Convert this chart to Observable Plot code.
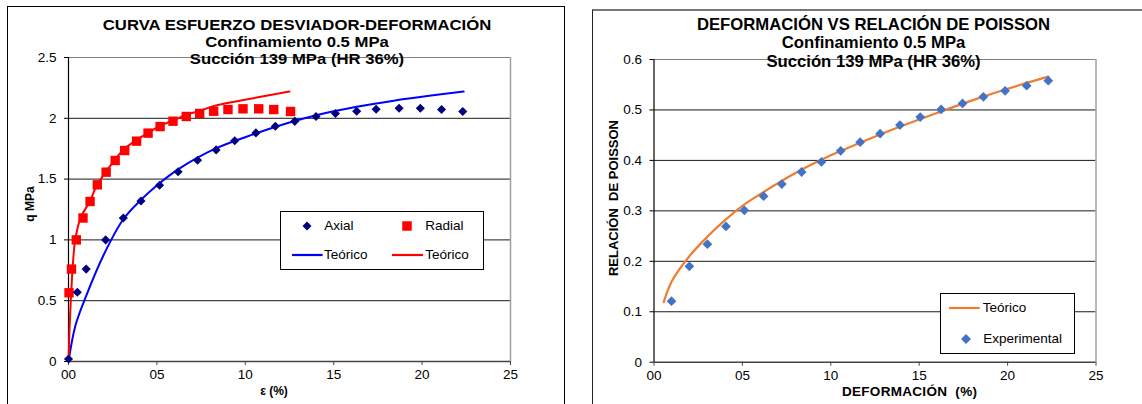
<!DOCTYPE html>
<html>
<head>
<meta charset="utf-8">
<script src="https://cdn.jsdelivr.net/npm/d3@7"></script>
<script src="https://cdn.jsdelivr.net/npm/@observablehq/plot@0.6"></script>
<style>
  html, body { margin: 0; padding: 0; background: #fff; }
  #page { position: relative; width: 1142px; height: 404px; overflow: hidden; background: #fff;
          font-family: "Liberation Sans", Arial, sans-serif; color: #000; }
  .frame { position: absolute; box-sizing: border-box; }
  .chart { position: absolute; top: 0; }
  .title { position: absolute; font-weight: bold; font-size: 16.7px; line-height: 14px;
           white-space: nowrap; transform: translateX(-50%); }
  .title.tight { font-size: 15.4px; transform: translateX(-50%) scaleX(1.085); }
  .axlabel { position: absolute; font-weight: bold; font-size: 12px; line-height: 12px;
             white-space: pre; }
  .legend { position: absolute; box-sizing: border-box; border: 1.4px solid #000; background: #fff; }
  .lgtext { position: absolute; font-size: 13.5px; line-height: 16px; white-space: nowrap; }
  .lgsym { position: absolute; overflow: visible; }
</style>
</head>
<body>
<div id="page">
  <div class="frame" style="left:7px;top:5.5px;width:558px;height:500px;border:1.5px solid #000;"></div>
  <div class="frame" style="left:592px;top:9px;width:600px;height:500px;border-left:1.5px solid #222;border-top:2px solid #777;"></div>
  <div id="left" class="chart" style="left:0px;"></div>
  <div id="right" class="chart" style="left:580px;"></div>
</div>
<script>
// ---- Deviator stress vs. strain ----
const xTicks = [0, 5, 10, 15, 20, 25];
const xTickLabels = ["00", "05", "10", "15", "20", "25"];
const qTicks = [0, 0.5, 1, 1.5, 2, 2.5];
const qTickLabels = ["0", "0.5", "1", "1.5", "2", "2.5"];

const axialStrain = [0.0, 0.5, 1.0, 2.1, 3.1, 4.1, 5.15, 6.2, 7.3, 8.35, 9.4, 10.6, 11.7, 12.8, 14.0, 15.1, 16.3, 17.4, 18.7, 19.9, 21.1, 22.3];
const axialQ = [0.02, 0.57, 0.76, 1.0, 1.18, 1.32, 1.45, 1.56, 1.655, 1.74, 1.815, 1.88, 1.935, 1.975, 2.015, 2.04, 2.058, 2.075, 2.083, 2.083, 2.072, 2.056];

const radialStrain = [0.03, 0.17, 0.44, 0.82, 1.22, 1.63, 2.13, 2.64, 3.18, 3.85, 4.5, 5.18, 5.91, 6.66, 7.42, 8.21, 9.02, 9.87, 10.76, 11.61, 12.56];
const radialQ = [0.565, 0.76, 1.0, 1.18, 1.316, 1.453, 1.557, 1.653, 1.735, 1.812, 1.878, 1.932, 1.976, 2.015, 2.04, 2.058, 2.072, 2.078, 2.078, 2.072, 2.056];

const axialModelStrain = [0, 0.4, 1.0, 2.0, 3.1, 4.1, 5.1, 6.2, 8.3, 10.5, 12.5, 14.3, 16.3, 18.4, 20.4, 22.35];
const axialModelQ = [0, 0.3, 0.54, 0.88, 1.17, 1.33, 1.46, 1.58, 1.75, 1.87, 1.965, 2.035, 2.095, 2.145, 2.185, 2.22];

const radialModelStrain = [0, 0.06, 0.13, 0.23, 0.38, 0.68, 1.2, 1.6, 2.1, 2.6, 3.1, 3.8, 4.5, 5.2, 6.0, 6.7, 7.5, 8.2, 9.9, 12.5];
const radialModelQ = [0, 0.27, 0.5, 0.76, 1.0, 1.18, 1.316, 1.447, 1.557, 1.653, 1.741, 1.817, 1.88, 1.94, 1.988, 2.031, 2.064, 2.1, 2.15, 2.22];

// ---- Poisson ratio vs. strain ----
const nuTicks = [0, 0.1, 0.2, 0.3, 0.4, 0.5, 0.6];
const nuTickLabels = ["0", "0.1", "0.2", "0.3", "0.4", "0.5", "0.6"];

const expStrain = [0.99, 2.0, 3.02, 4.07, 5.11, 6.2, 7.23, 8.35, 9.47, 10.56, 11.66, 12.79, 13.91, 15.06, 16.24, 17.45, 18.63, 19.86, 21.08, 22.3];
const expNu = [0.121, 0.19, 0.234, 0.269, 0.301, 0.329, 0.353, 0.377, 0.397, 0.419, 0.436, 0.453, 0.47, 0.486, 0.501, 0.513, 0.526, 0.538, 0.548, 0.558];

const modelStrain = [0.55, 1.0, 2.0, 3.0, 4.0, 5.0, 6.0, 8.0, 10.0, 12.0, 14.0, 16.0, 18.0, 20.0, 22.3];
const modelNu = [0.119, 0.16, 0.21, 0.248, 0.281, 0.31, 0.333, 0.375, 0.41, 0.44, 0.468, 0.494, 0.519, 0.542, 0.566];

const zip = (xs, ys) => xs.map((x, i) => ({x, y: ys[i]}));
const fmt = (ticks, labels) => d => labels[ticks.findIndex(t => Math.abs(t - d) < 1e-9)];

const baseStyle = {fontFamily: '"Liberation Sans", Arial, sans-serif', fontSize: "13.5px",
                   color: "#000", background: "transparent", overflow: "visible"};

function frameMarks(yTicks, yLabels, yMax) {
  return [
    Plot.gridY(yTicks.slice(1, -1), {stroke: "#1a1a1a", strokeOpacity: 1, strokeWidth: 1}),
    Plot.ruleY([yMax], {stroke: "#808080", strokeWidth: 1.2}),
    Plot.ruleX([25], {stroke: "#a0a0a0", strokeWidth: 1.5}),
    Plot.ruleY([0], {stroke: "#444", strokeWidth: 1.5}),
    Plot.ruleX([0], {stroke: "#000", strokeWidth: 1.2}),
    Plot.axisY(yTicks, {tickSize: 4, tickPadding: 8, stroke: "#000", tickFormat: fmt(yTicks, yLabels), label: null}),
    Plot.axisX(xTicks, {tickSize: 4, tickPadding: 4, stroke: "#444", tickFormat: fmt(xTicks, xTickLabels), label: null})
  ];
}

const left = Plot.plot({
  width: 570, height: 404,
  marginLeft: 68, marginRight: 60, marginTop: 57, marginBottom: 43,
  style: baseStyle,
  x: {domain: [0, 25], label: null},
  y: {domain: [0, 2.5], label: null},
  marks: [
    ...frameMarks(qTicks, qTickLabels, 2.5),
    Plot.line(zip(axialModelStrain, axialModelQ), {x: "x", y: "y", stroke: "#0000ff", strokeWidth: 2, curve: "catmull-rom"}),
    Plot.line(zip(radialModelStrain, radialModelQ), {x: "x", y: "y", stroke: "#ff0000", strokeWidth: 2, curve: "catmull-rom"}),
    Plot.dot(zip(radialStrain, radialQ), {x: "x", y: "y", symbol: "square", r: 5.3, fill: "#ff0000", stroke: "none"}),
    Plot.dot(zip(axialStrain, axialQ), {x: "x", y: "y", symbol: "diamond2", r: 4.1, fill: "#000080", stroke: "none"})
  ]
});
document.getElementById("left").appendChild(left);

const right = Plot.plot({
  width: 562, height: 404,
  marginLeft: 73.5, marginRight: 46.5, marginTop: 59, marginBottom: 42.3,
  style: baseStyle,
  x: {domain: [0, 25], label: null},
  y: {domain: [0, 0.6], label: null},
  marks: [
    ...frameMarks(nuTicks, nuTickLabels, 0.6),
    Plot.line(zip(modelStrain, modelNu), {x: "x", y: "y", stroke: "#ed7d31", strokeWidth: 2.2, curve: "catmull-rom"}),
    Plot.dot(zip(expStrain, expNu), {x: "x", y: "y", symbol: "diamond2", r: 4.4, fill: "#4472c4", stroke: "none"})
  ]
});
document.getElementById("right").appendChild(right);

// ---- titles, axis labels and legends ----
const page = document.getElementById("page");
function addDiv(cls, text, css) {
  const d = document.createElement("div");
  d.className = cls;
  d.textContent = text;
  Object.assign(d.style, css);
  page.appendChild(d);
  return d;
}
const leftTitles = ["CURVA ESFUERZO DESVIADOR-DEFORMACIÓN", "Confinamiento 0.5 MPa", "Succión 139 MPa (HR 36%)"];
const rightTitles = ["DEFORMACIÓN VS RELACIÓN DE POISSON", "Confinamiento 0.5 MPa", "Succión 139 MPa (HR 36%)"];
[17.9, 35.0, 52.1].forEach((t, i) => addDiv("title tight", leftTitles[i], {left: "297px", top: t + "px"}));
[17.9, 36.2, 54.5].forEach((t, i) => addDiv("title", rightTitles[i], {left: "873.5px", top: t + "px"}));

addDiv("axlabel", "q MPa", {left: "30px", top: "204px", transform: "translate(-50%,-50%) rotate(-90deg)"});
addDiv("axlabel", "ε (%)", {left: "274px", top: "391px", transform: "translate(-50%,-50%)"});
addDiv("axlabel", "RELACIÓN  DE POISSON", {left: "614.4px", top: "198px", fontSize: "13px", transform: "translate(-50%,-50%) rotate(-90deg)"});
addDiv("axlabel", "DEFORMACIÓN  (%)", {left: "909.6px", top: "391.7px", fontSize: "13.5px", letterSpacing: "0.3px", transform: "translate(-50%,-50%)"});

function legendBox(x, y, w, h) {
  addDiv("legend", "", {left: x + "px", top: y + "px", width: w + "px", height: h + "px"});
}
const svgNS = "http://www.w3.org/2000/svg";
function legendSymbol(cx, cy, kind, color, size) {
  const s = document.createElementNS(svgNS, "svg");
  s.setAttribute("class", "lgsym");
  s.setAttribute("width", 1); s.setAttribute("height", 1);
  s.style.left = cx + "px"; s.style.top = cy + "px";
  let el;
  if (kind === "line") {
    el = document.createElementNS(svgNS, "line");
    el.setAttribute("x1", 0); el.setAttribute("x2", size);
    el.setAttribute("y1", 0); el.setAttribute("y2", 0);
    el.setAttribute("stroke", color); el.setAttribute("stroke-width", 2.2);
  } else if (kind === "square") {
    el = document.createElementNS(svgNS, "rect");
    el.setAttribute("x", -size / 2); el.setAttribute("y", -size / 2);
    el.setAttribute("width", size); el.setAttribute("height", size);
    el.setAttribute("fill", color);
  } else {
    el = document.createElementNS(svgNS, "path");
    const r = size / 2;
    el.setAttribute("d", `M0,${-r}L${r},0L0,${r}L${-r},0Z`);
    el.setAttribute("fill", color);
  }
  s.appendChild(el);
  page.appendChild(s);
}
function legendText(x, cy, text) {
  addDiv("lgtext", text, {left: x + "px", top: (cy - 8) + "px"});
}

legendBox(280, 211, 203.5, 58.5);
legendSymbol(306.7, 226, "diamond", "#000080", 9);
legendText(324.3, 226, "Axial");
legendSymbol(407.3, 226, "square", "#ff0000", 9.5);
legendText(425.3, 226, "Radial");
legendSymbol(291.7, 254.7, "line", "#0000ff", 30.6);
legendText(324, 254.7, "Teórico");
legendSymbol(392.3, 254.7, "line", "#ff0000", 31);
legendText(425.3, 254.7, "Teórico");

legendBox(940.3, 293, 134.5, 61);
legendSymbol(949.3, 308.3, "line", "#ed7d31", 30.7);
legendText(982.7, 308.3, "Teórico");
legendSymbol(965.7, 339.3, "diamond", "#4472c4", 10);
legendText(983.3, 339.3, "Experimental");
</script>
</body>
</html>
